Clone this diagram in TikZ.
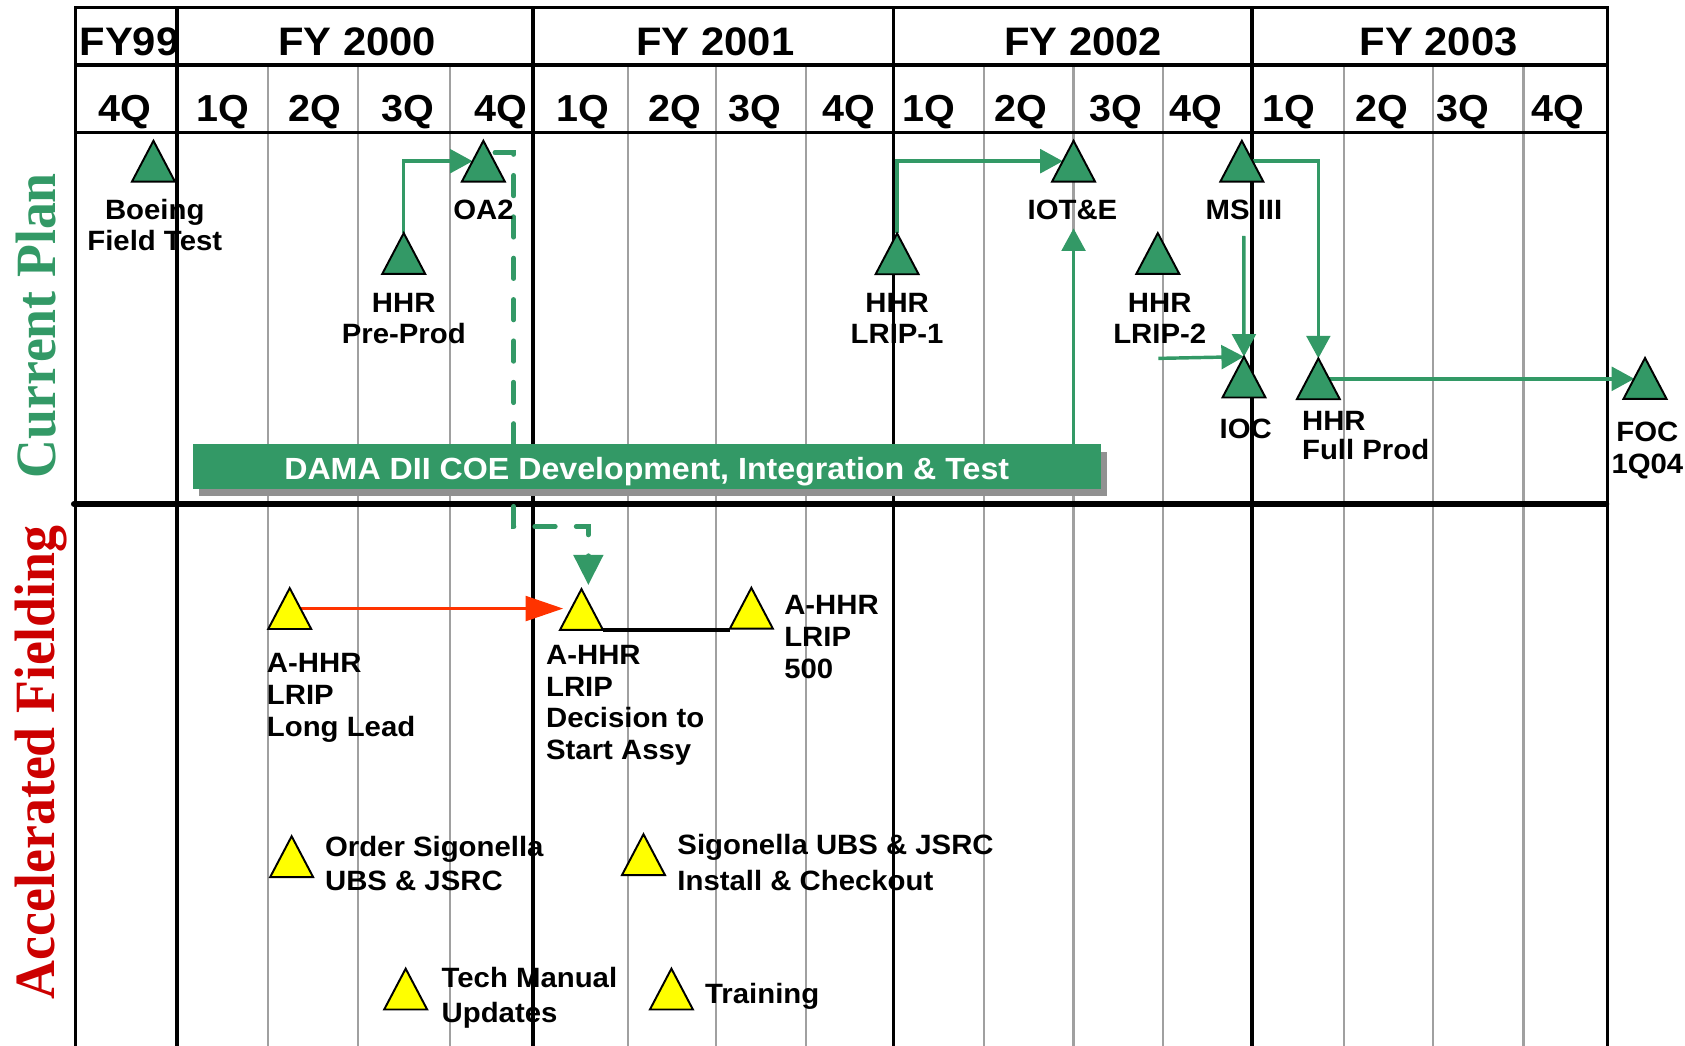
\documentclass[tikz,border=0pt]{standalone}
\usepackage{fontspec}
\newfontfamily\labfont{Liberation Sans}[FakeStretch=1.05]
\newfontfamily\sidefont{Liberation Serif}[FakeStretch=0.945]
\usetikzlibrary{arrows.meta,calc}

\definecolor{msgreen}{RGB}{51,153,102}
\definecolor{sidered}{RGB}{204,0,0}
\definecolor{leadred}{RGB}{255,51,0}
\definecolor{msyellow}{RGB}{255,255,0}
\definecolor{gridgray}{RGB}{160,160,160}
\definecolor{shadowgray}{RGB}{145,145,145}

% stacked label lines, first baseline is the box baseline
\newcommand\stackL[1]{\vtop{\halign{##\hfil\cr#1\crcr}}}
\newcommand\stackC[1]{\vtop{\halign{\hfil##\hfil\cr#1\crcr}}}

\tikzset{
  tri/.style={minimum width=40pt, minimum height=38pt, inner sep=0pt, outer sep=0pt},
  lab/.style={font=\labfont\bfseries\fontsize{26}{28.7}\selectfont, inner sep=0pt},
  lsk/.style={font=\labfont\bfseries\fontsize{26}{#1}\selectfont},
  hdr/.style={font=\labfont\bfseries\fontsize{37}{40}\selectfont, inner sep=0pt, anchor=base},
  qtr/.style={font=\labfont\bfseries\fontsize{35}{38}\selectfont, inner sep=0pt, anchor=base},
  side/.style={font=\sidefont\bfseries\fontsize{53}{56}\selectfont, inner sep=0pt, anchor=base, rotate=90},
  gtri/.style={fill=msgreen, draw=black, line width=1.8pt},
  ytri/.style={fill=msyellow, draw=black, line width=1.8pt},
  gline/.style={draw=msgreen, line width=3.2pt, -{Triangle[length=21pt,width=22pt]}},
  gdash/.style={draw=msgreen, line width=4.5pt, line cap=round, dash pattern=on 19pt off 19.5pt, -{Triangle[length=28pt,width=27pt]}},
  redarrow/.style={draw=leadred, line width=3pt, -{Triangle[length=35pt,width=23pt]}},
  gridblack/.style={line width=3.2pt, draw=black},
  qline/.style={line width=2pt, draw=gridgray},
  bar/.style={fill=msgreen, minimum width=845pt, minimum height=41.8pt, inner sep=0pt,
    text=white, text height=23.4pt, text depth=0pt,
    font=\labfont\bfseries\fontsize{28.5}{30}\selectfont,
    preaction={fill=shadowgray, transform canvas={xshift=6pt,yshift=-7pt}}},
}

\begin{document}
\begin{tikzpicture}[x=1pt, y=-1pt]
\useasboundingbox (0,0) rectangle (1568,973);

% quarter grid
\foreach \x in {249.3,333,418.4,584.1,666,749.7,915.3,999,1082.6,1250.4,1333.6,1417.7}
  \draw[qline] (\x,60.5) -- (\x,973);
% fiscal year dividers and frame
\foreach \x in {164.9,496.1,831.3,1165}
  \draw[gridblack] (\x,6.8) -- (\x,973);
\draw[gridblack, line join=miter] (70.2,973) -- (70.2,6.8) -- (1496,6.8) -- (1496,973);
\draw[gridblack] (70.2,60.5) -- (1496,60.5);
\draw[gridblack] (70.2,123.1) -- (1496,123.1);
\draw[line width=6pt, line cap=round] (69,469) -- (1494.5,469);

% header
\node[hdr] (fy99) at (120.5,51.2) {FY99};
\node[hdr] (fy00) at (332.3,51.2) {FY 2000};
\node[hdr] (fy01) at (665.7,51.2) {FY 2001};
\node[hdr] (fy02) at (1008,51.2) {FY 2002};
\node[hdr] (fy03) at (1338.7,51.2) {FY 2003};
\foreach \x/\t [count=\i] in {116.3/4Q,207.3/1Q,293/2Q,379.6/3Q,466/4Q,542/1Q,627.6/2Q,702.7/3Q,789.6/4Q,864/1Q,950.3/2Q,1038/3Q,1113/4Q,1199.5/1Q,1285.5/2Q,1361/3Q,1450/4Q}
  \node[qtr] (q\i) at (\x,113.2) {\t};

% side titles
\node[side, text=msgreen] (cp) at (51.5,303.2) {Current Plan};
\node[side, text=sidered] (af) at (50.5,709.3) {Accelerated Fielding};

% milestone boxes (triangles drawn from their anchors)
\node[tri] (bft) at (142.8,150) {};
\node[tri] (oa2) at (449.8,150) {};
\node[tri] (pre) at (375.7,235.9) {};
\node[tri] (lrip1) at (834.8,236.2) {};
\node[tri] (iote) at (999,150) {};
\node[tri] (lrip2) at (1077.4,235.9) {};
\node[tri] (ms3) at (1155.6,150) {};
\node[tri] (ioc) at (1157.6,350.9) {};
\node[tri] (fullprod) at (1226.8,352.5) {};
\node[tri] (foc) at (1530.8,352.1) {};
\node[tri] (yll) at (269.6,566.3) {};
\node[tri] (ydec) at (541.1,567.2) {};
\node[tri] (y500) at (699.2,566) {};
\node[tri] (yord) at (271.4,797.2) {};
\node[tri] (ysig) at (598.8,795.3) {};
\node[tri] (ytech) at (377.5,920.4) {};
\node[tri] (ytrain) at (624.8,920.4) {};

% edge points on the triangle sides
\coordinate (oa2L) at ($(oa2.north)!0.5!(oa2.south west)$);
\coordinate (ioteL) at ($(iote.north)!0.5!(iote.south west)$);
\coordinate (ms3R) at ($(ms3.north)!0.5!(ms3.south east)$);
\coordinate (fpR) at ($(fullprod.north)!0.5!(fullprod.south east)$);
\coordinate (focL) at ($(foc.north)!0.5!(foc.south west)$);
\coordinate (yllR) at ($(yll.north)!0.5!(yll.south east)$);
\coordinate (ydecL) at ($(ydec.north)!0.5!(ydec.south west)$);
\coordinate (oa2Out) at ($(oa2.north)+(10.8,11.1)$);
\coordinate (ydecIn) at ($(ydec.north)+(6.4,-3.8)$);
\coordinate (ioteTip) at (999,212.5);
\coordinate (ms3Drop) at (1157.4,219.6);
\coordinate (lrip2Out) at (1078,333.5);

% current plan links
\draw[gline] (pre.north) |- (oa2L);
\draw[gline] (lrip1.north) |- (ioteL);
\draw[gline] (ms3R) -| (fullprod.north);
\draw[gline] (ms3Drop) -- (ioc.north);
\draw[gline] (lrip2Out) -- (ioc.north);
\draw[gline] (fpR) -- (fpR -| focL);

% OA2 feeding the accelerated decision
\draw[gdash] (oa2Out) -| (478,490) -| (ydecIn);

% development bar
\node[bar] (dama) at (601.8,434.1) {DAMA DII COE Development, Integration \& Test};
\draw[gline] (dama.north -| ioteTip) -- (ioteTip);

% accelerated fielding links
\draw[redarrow, shorten >=7pt] (yllR) -- (yllR -| ydecL);
\draw[line width=3pt] (ydec.south east) -- (ydec.south east -| y500.south west);

% triangles
\foreach \n in {bft,oa2,pre,lrip1,iote,lrip2,ms3,ioc,fullprod,foc}
  \filldraw[gtri] (\n.south west) -- (\n.north) -- (\n.south east) -- cycle;
\foreach \n in {yll,ydec,y500,yord,ysig,ytech,ytrain}
  \filldraw[ytri] (\n.south west) -- (\n.north) -- (\n.south east) -- cycle;

% current plan labels
\node[lab, anchor=base] (bftT) at (144,204) {\stackC{Boeing\cr Field Test}};
\node[lab, anchor=base] (oa2T) at (450,204.7) {OA2};
\node[lab, anchor=base] (preT) at (375.7,291) {\stackC{HHR\cr Pre-Prod}};
\node[lab, anchor=base] (lrip1T) at (834.8,291) {\stackC{HHR\cr LRIP-1}};
\node[lab, anchor=base] (ioteT) at (998,204.7) {IOT\&E};
\node[lab, anchor=base] (lrip2T) at (1079.2,290.5) {\stackC{HHR\cr LRIP-2}};
\node[lab, anchor=base] (ms3T) at (1157.6,204.7) {MS III};
\node[lab, anchor=base] (iocT) at (1159.2,407.9) {IOC};
\node[lab, lsk=27.8, anchor=base west] (fullprodT) at (1211.5,400.2) {\stackL{HHR\cr Full Prod}};
\node[lab, lsk=29.5, anchor=base] (focT) at (1533,411) {\stackC{FOC\cr 1Q04}};

% accelerated fielding labels
\node[lab, lsk=29.7, anchor=base west] (yllT) at (248.2,625.8) {\stackL{A-HHR\cr LRIP\cr Long Lead}};
\node[lab, lsk=29.5, anchor=base west] (ydecT) at (508,618.4) {\stackL{A-HHR\cr LRIP\cr Decision to\cr Start Assy}};
\node[lab, lsk=29.8, anchor=base west] (y500T) at (729.6,571.7) {\stackL{A-HHR\cr LRIP\cr 500}};
\node[lab, lsk=31.7, anchor=base west] (yordT) at (302.3,796.7) {\stackL{Order Sigonella\cr UBS \& JSRC}};
\node[lab, lsk=33.7, anchor=base west] (ysigT) at (630.2,795.4) {\stackL{Sigonella UBS \& JSRC\cr Install \& Checkout}};
\node[lab, lsk=32.4, anchor=base west] (ytechT) at (410.8,919.2) {\stackL{Tech Manual\cr Updates}};
\node[lab, anchor=base west] (ytrainT) at (656,933.8) {Training};
\end{tikzpicture}
\end{document}
